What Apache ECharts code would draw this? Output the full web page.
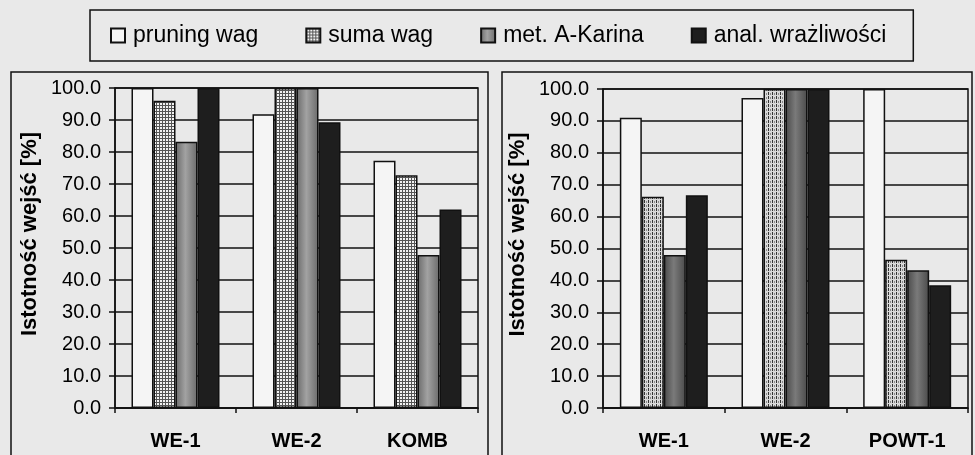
<!DOCTYPE html>
<html>
<head>
<meta charset="utf-8">
<script src="https://cdn.jsdelivr.net/npm/echarts@6/dist/echarts.min.js"></script>
<style>
  html, body { margin: 0; padding: 0; background: #e9e9e9; }
  #chart { width: 975px; height: 455px; }
</style>
</head>
<body>
<div id="chart"></div>
<script>
// Categories for each panel
const categoriesLeft = ['WE-1', 'WE-2', 'KOMB'];
const categoriesRight = ['WE-1', 'WE-2', 'POWT-1'];

// Series names
const seriesNames = ['pruning wag', 'suma wag', 'met. A-Karina', 'anal. wrażliwości'];

// Input significance [%] — left panel
const pruningLeft = [100, 91.8, 77.3];
const sumaLeft = [96.0, 100, 72.7];
const karinaLeft = [83.2, 100, 47.8];
const analLeft = [100, 89.3, 62.0];

// Input significance [%] — right panel
const pruningRight = [91.0, 97.2, 100];
const sumaRight = [66.2, 100, 46.5];
const karinaRight = [48.0, 100, 43.2];
const analRight = [66.7, 100, 38.5];

// Y axis ticks
const yMin = 0, yMax = 100, yStep = 10;

const FONT = '"Liberation Sans", Arial, sans-serif';

// Fill patterns
function gridPattern() {
  const c = document.createElement('canvas');
  c.width = 3; c.height = 3;
  const g = c.getContext('2d');
  g.fillStyle = '#f2f2f2'; g.fillRect(0, 0, 3, 3);
  g.fillStyle = '#555';
  g.fillRect(0, 0, 3, 1);
  g.fillRect(0, 0, 1, 3);
  return { image: c, repeat: 'repeat' };
}
function stripePattern() {
  const c = document.createElement('canvas');
  c.width = 4; c.height = 4;
  const g = c.getContext('2d');
  g.fillStyle = '#d8d8d8'; g.fillRect(0, 0, 4, 4);
  g.fillStyle = '#333';
  g.fillRect(0, 0, 1, 3);
  g.fillStyle = '#888';
  g.fillRect(2, 1, 1, 2);
  return { image: c, repeat: 'repeat' };
}
function grayGradient(edge, mid) {
  return new echarts.graphic.LinearGradient(0, 0, 1, 0, [
    { offset: 0, color: edge },
    { offset: 0.45, color: mid },
    { offset: 1, color: edge }
  ]);
}

const stylesLeft = [
  { color: '#f5f5f5' },
  { color: gridPattern() },
  { color: grayGradient('#6a6a6a', '#a2a2a2') },
  { color: '#1e1e1e' }
];
const stylesRight = [
  { color: '#f5f5f5' },
  { color: stripePattern() },
  { color: grayGradient('#4a4a4a', '#7a7a7a') },
  { color: '#1e1e1e' }
];

const dataLeft = [pruningLeft, sumaLeft, karinaLeft, analLeft];
const dataRight = [pruningRight, sumaRight, karinaRight, analRight];

function yAxis(gridIndex) {
  return {
    type: 'value', gridIndex, min: yMin, max: yMax, interval: yStep,
    name: 'Istotność wejść [%]', nameLocation: 'middle', nameGap: 74,
    nameRotate: 90,
    nameTextStyle: {
      fontFamily: FONT, fontWeight: 'bold', fontSize: 22, color: '#000',
      padding: [0, 0, 0, 28]
    },
    axisLine: { show: true, lineStyle: { color: '#111', width: 1.5 } },
    axisTick: { show: true, length: 6, lineStyle: { color: '#111', width: 1.5 } },
    axisLabel: {
      fontFamily: FONT, fontSize: 20, color: '#000', margin: 14,
      formatter: v => v.toFixed(1)
    },
    splitLine: { show: true, lineStyle: { color: '#111', width: 1.5 } }
  };
}
function xAxis(gridIndex, cats) {
  return {
    type: 'category', gridIndex, data: cats,
    axisLine: { show: true, lineStyle: { color: '#111', width: 1.5 } },
    axisTick: { show: true, length: 5, lineStyle: { color: '#111', width: 1.5 } },
    axisLabel: { fontFamily: FONT, fontWeight: 'bold', fontSize: 20, color: '#000', margin: 23 }
  };
}

const series = [];
seriesNames.forEach((name, i) => {
  series.push({
    name, type: 'bar', xAxisIndex: 0, yAxisIndex: 0,
    data: dataLeft[i], barWidth: 22, barGap: '0%',
    itemStyle: Object.assign({ borderColor: '#111', borderWidth: 1.5 }, stylesLeft[i])
  });
});
seriesNames.forEach((name, i) => {
  series.push({
    name, type: 'bar', xAxisIndex: 1, yAxisIndex: 1,
    data: dataRight[i], barWidth: 22, barGap: '0%',
    itemStyle: Object.assign({ borderColor: '#111', borderWidth: 1.5 }, stylesRight[i])
  });
});

const chart = echarts.init(document.getElementById('chart'), null, { renderer: 'canvas' });
chart.setOption({
  backgroundColor: '#e9e9e9',
  animation: false,
  legend: {
    data: seriesNames,
    icon: 'rect',
    left: 90, top: 10,
    itemWidth: 14, itemHeight: 14, itemGap: 47,
    padding: [14, 27, 14, 20],
    borderColor: '#111', borderWidth: 1.5,
    textStyle: { fontFamily: FONT, fontSize: 23, color: '#000', padding: [0, 0, 0, 3] },
    selectedMode: false
  },
  graphic: [
    { type: 'rect', shape: { x: 11, y: 72, width: 477, height: 400 }, style: { fill: 'none', stroke: '#111', lineWidth: 1.5 }, silent: true },
    { type: 'rect', shape: { x: 502, y: 72, width: 470, height: 400 }, style: { fill: 'none', stroke: '#111', lineWidth: 1.5 }, silent: true }
  ],
  grid: [
    { left: 115, right: 497, top: 88, bottom: 47, show: true, borderColor: '#111', borderWidth: 1.5, backgroundColor: 'transparent' },
    { left: 603, right: 7, top: 89, bottom: 47, show: true, borderColor: '#111', borderWidth: 1.5, backgroundColor: 'transparent' }
  ],
  xAxis: [xAxis(0, categoriesLeft), xAxis(1, categoriesRight)],
  yAxis: [yAxis(0), yAxis(1)],
  series
});
</script>
</body>
</html>
